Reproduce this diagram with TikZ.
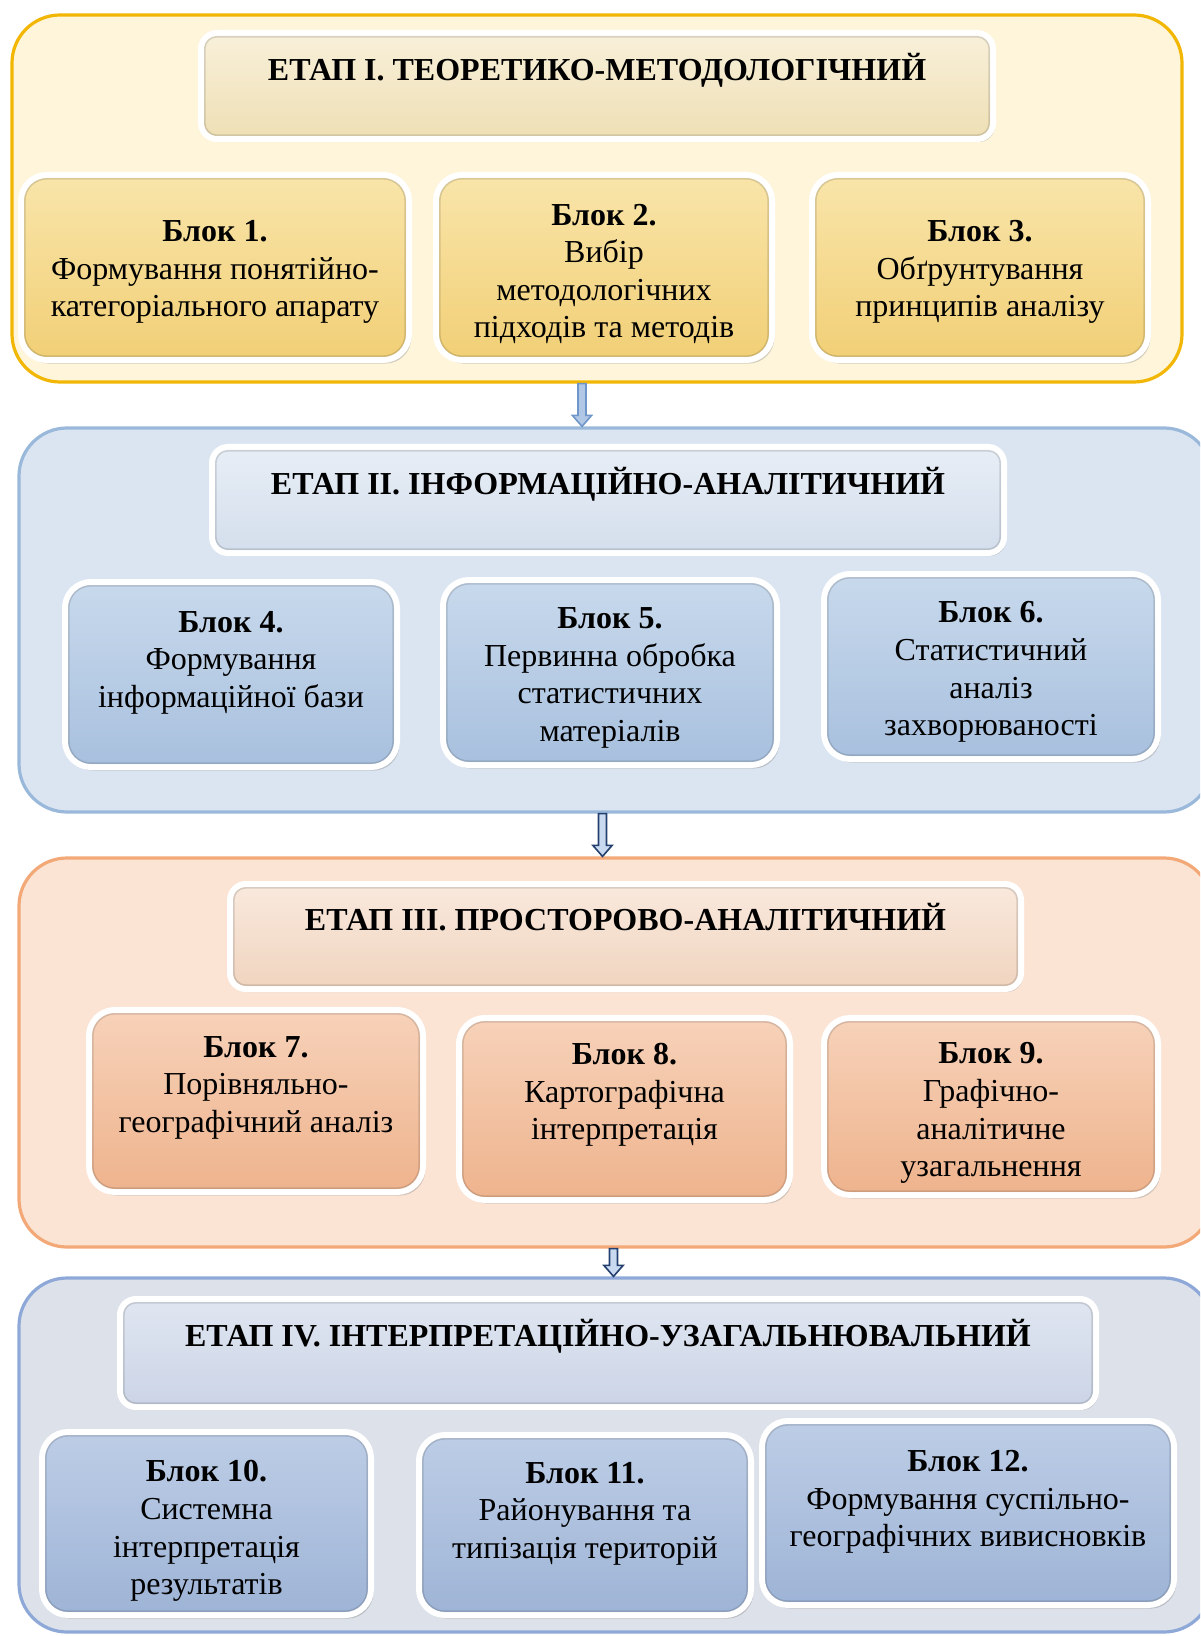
\documentclass[tikz,border=0pt]{standalone}
\usepackage{fontspec}
\setmainfont{Liberation Serif}
\usetikzlibrary{fit,shadows,calc,positioning}

\definecolor{frameIline}{HTML}{F2B705}
\definecolor{frameIfill}{HTML}{FEF5DA}
\definecolor{titleItop}{HTML}{F8F0DA}
\definecolor{titleIbot}{HTML}{EEDFB4}
\definecolor{blockItop}{HTML}{F9E5AA}
\definecolor{blockIbot}{HTML}{F1CF76}

\definecolor{frameIIline}{HTML}{9AB8DA}
\definecolor{frameIIfill}{HTML}{DBE5F1}
\definecolor{titleIItop}{HTML}{E8EEF6}
\definecolor{titleIIbot}{HTML}{D3DEEC}
\definecolor{blockIItop}{HTML}{C8D9EC}
\definecolor{blockIIbot}{HTML}{A8C0DE}

\definecolor{frameIIIline}{HTML}{F2A877}
\definecolor{frameIIIfill}{HTML}{FCE4D5}
\definecolor{titleIIItop}{HTML}{F9E9DD}
\definecolor{titleIIIbot}{HTML}{F0D4BF}
\definecolor{blockIIItop}{HTML}{F7D2B9}
\definecolor{blockIIIbot}{HTML}{EEB38D}

\definecolor{frameIVline}{HTML}{8EA8D8}
\definecolor{frameIVfill}{HTML}{DCE1EA}
\definecolor{titleIVtop}{HTML}{E0E6F1}
\definecolor{titleIVbot}{HTML}{CBD4E6}
\definecolor{blockIVtop}{HTML}{BDCDE6}
\definecolor{blockIVbot}{HTML}{9EB4D6}

\definecolor{arrowAline}{HTML}{6F96C8}
\definecolor{arrowAfill}{HTML}{B0C7E6}
\definecolor{arrowBline}{HTML}{24406E}
\definecolor{arrowBfill}{HTML}{C9DAF0}

\newcommand\boxfont{\fontsize{16}{18.8}\selectfont}

\tikzset{
	stageframe/.style 2 args={draw=#1, fill=#2, line width=1.6pt, rounded corners=24pt, inner sep=0pt},
	titlebox/.style 2 args={draw=white, line width=3pt, top color=#1, bottom color=#2, rounded corners=8pt, inner sep=0pt, outer sep=0pt,
		drop shadow={shadow xshift=1pt, shadow yshift=-1.5pt, opacity=0.35}},
	blockbox/.style 2 args={draw=white, line width=3pt, top color=#1, bottom color=#2, rounded corners=13pt, inner sep=0pt, outer sep=0pt,
		drop shadow={shadow xshift=1.2pt, shadow yshift=-1.8pt, opacity=0.35}},
	bevel/.style={draw=black, draw opacity=0.13, line width=0.8pt},
	blocktext/.style={align=center, font=\boxfont, inner sep=0pt},
	titletext/.style={font=\boxfont\bfseries, inner sep=0pt},
	fatarrow/.style 2 args={draw=#1, fill=#2, line width=0.8pt,
		to path={let \p1=(\tikztostart), \p2=(\tikztotarget) in
			(\x1-2pt,\y1) -- (\x1-2pt,\y2+5.5pt) -- (\x1-4.8pt,\y2+5.5pt) -- (\x1,\y2)
			-- (\x1+4.8pt,\y2+5.5pt) -- (\x1+2pt,\y2+5.5pt) -- (\x1+2pt,\y1) -- cycle}},
}

\begin{document}
\begin{tikzpicture}[x=0.5pt, y=-0.5pt]
	\useasboundingbox (0,0) rectangle (1200,1636);
	\clip (0,0) rectangle (1200,1636);

	% stage I
	\node[stageframe={frameIline}{frameIfill}, fit={(12,15) (1182,382)}] (s1) {};
	\node[titlebox={titleItop}{titleIbot}, fit={(201,33) (993,139)}] (t1) {};
	\node[titletext] (l1) at ([yshift=-18.5pt]t1.north) {ЕТАП I. ТЕОРЕТИКО-МЕТОДОЛОГІЧНИЙ};
	\node[blockbox={blockItop}{blockIbot}, fit={(21,175) (409,360)}] (b1) {};
	\node[blocktext] (b1t) at ([yshift=-2.3pt]b1.center)
		{\textbf{Блок 1.}\\Формування понятійно-\\категоріального апарату};
	\node[blockbox={blockItop}{blockIbot}, fit={(436,175) (772,360)}] (b2) {};
	\node[blocktext] (b2t) at ([yshift=-3.3pt]b2.center)
		{\textbf{Блок 2.}\\Вибір\\методологічних\\підходів та методів};
	\node[blockbox={blockItop}{blockIbot}, fit={(812,175) (1148,360)}] (b3) {};
	\node[blocktext] (b3t) at ([yshift=-2.3pt]b3.center)
		{\textbf{Блок 3.}\\Обґрунтування\\принципів аналізу};

	% stage II
	\node[stageframe={frameIIline}{frameIIfill}, fit={(19,428) (1212,812)}] (s2) {};
	\node[titlebox={titleIItop}{titleIIbot}, fit={(212,447) (1004,553)}] (t2) {};
	\node[titletext] (l2) at ([yshift=-18.5pt]t2.north) {ЕТАП II. ІНФОРМАЦІЙНО-АНАЛІТИЧНИЙ};
	\node[blockbox={blockIItop}{blockIIbot}, fit={(65,582) (397,767)}] (b4) {};
	\node[blocktext] (b4t) at ([yshift=6pt]b4.center)
		{\textbf{Блок 4.}\\Формування\\інформаційної бази};
	\node[blockbox={blockIItop}{blockIIbot}, fit={(443,580) (777,765)}] (b5) {};
	\node[blocktext] (b5t) at ([yshift=-2.8pt]b5.center)
		{\textbf{Блок 5.}\\Первинна обробка\\статистичних\\матеріалів};
	\node[blockbox={blockIItop}{blockIIbot}, fit={(824,574) (1158,759)}] (b6) {};
	\node[blocktext] (b6t) at ([yshift=-2.8pt]b6.center)
		{\textbf{Блок 6.}\\Статистичний\\аналіз\\захворюваності};

	% stage III
	\node[stageframe={frameIIIline}{frameIIIfill}, fit={(19,858) (1212,1247)}] (s3) {};
	\node[titlebox={titleIIItop}{titleIIIbot}, fit={(230,884) (1021,989)}] (t3) {};
	\node[titletext] (l3) at ([yshift=-16.5pt]t3.north) {ЕТАП III. ПРОСТОРОВО-АНАЛІТИЧНИЙ};
	\node[blockbox={blockIIItop}{blockIIIbot}, fit={(89,1010) (423,1192)}] (b7) {};
	\node[blocktext] (b7t) at ([yshift=6.6pt]b7.center)
		{\textbf{Блок 7.}\\Порівняльно-\\географічний аналіз};
	\node[blockbox={blockIIItop}{blockIIIbot}, fit={(459,1018) (790,1200)}] (b8) {};
	\node[blocktext] (b8t) at ([yshift=7pt]b8.center)
		{\textbf{Блок 8.}\\Картографічна\\інтерпретація};
	\node[blockbox={blockIIItop}{blockIIIbot}, fit={(824,1018) (1158,1195)}] (b9) {};
	\node[blocktext] (b9t) at ([yshift=-3.3pt]b9.center)
		{\textbf{Блок 9.}\\Графічно-\\аналітичне\\узагальнення};

	% stage IV
	\node[stageframe={frameIVline}{frameIVfill}, fit={(19,1278) (1212,1632)}] (s4) {};
	\node[titlebox={titleIVtop}{titleIVbot}, fit={(120,1299) (1096,1407)}] (t4) {};
	\node[titletext] (l4) at ([yshift=-18.5pt]t4.north) {ЕТАП IV. ІНТЕРПРЕТАЦІЙНО-УЗАГАЛЬНЮВАЛЬНИЙ};
	\node[blockbox={blockIVtop}{blockIVbot}, fit={(42,1432) (371,1615)}] (b10) {};
	\node[blocktext] (b10t) at ([yshift=-3.8pt]b10.center)
		{\textbf{Блок 10.}\\Системна\\інтерпретація\\результатів};
	\node[blockbox={blockIVtop}{blockIVbot}, fit={(419,1435) (751,1615)}] (b11) {};
	\node[blocktext] (b11t) at ([yshift=5.6pt]b11.center)
		{\textbf{Блок 11.}\\Районування та\\типізація територій};
	\node[blockbox={blockIVtop}{blockIVbot}, fit={(762,1421) (1174,1605)}] (b12) {};
	\node[blocktext] (b12t) at ([yshift=5.6pt]b12.center)
		{\textbf{Блок 12.}\\Формування суспільно-\\географічних вивисновків};

	% inner edge of the boxes
	\foreach \n in {b1,b2,b3,b4,b5,b6,b7,b8,b9,b10,b11,b12}
		\draw[bevel, rounded corners=11pt] ([shift={(1.9pt,-1.9pt)}]\n.north west) rectangle ([shift={(-1.9pt,1.9pt)}]\n.south east);
	\foreach \n in {t1,t2,t3,t4}
		\draw[bevel, rounded corners=6pt] ([shift={(1.9pt,-1.9pt)}]\n.north west) rectangle ([shift={(-1.9pt,1.9pt)}]\n.south east);

	% arrows between stages
	\draw[fatarrow={arrowAline}{arrowAfill}] ([xshift=-7.5pt]s1.south) to ([xshift=-7.5pt]s1.south |- s2.north);
	\draw[fatarrow={arrowBline}{arrowBfill}] ([xshift=-6.5pt]s2.south) to ([xshift=-6.5pt]s2.south |- s3.north);
	\draw[fatarrow={arrowBline}{arrowBfill}] ([xshift=-1pt]s3.south) to ([xshift=-1pt]s3.south |- s4.north);
\end{tikzpicture}
\end{document}
